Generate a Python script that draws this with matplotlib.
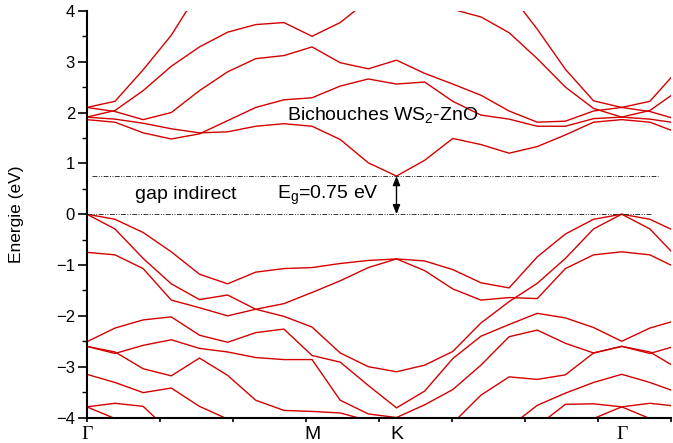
import matplotlib
matplotlib.use("Agg")
import matplotlib.pyplot as plt
import matplotlib.transforms as mtransforms
import numpy as np

plt.rcParams['font.family'] = ['Liberation Sans', 'DejaVu Sans']
plt.rcParams['mathtext.fontset'] = 'custom'
plt.rcParams['mathtext.rm'] = 'Liberation Sans'
plt.rcParams['mathtext.it'] = 'Liberation Sans:italic'

# k-point index along the path (22 points)
kpts = np.arange(22)

# Conduction bands (eV)
cb_a = [2.10, 2.22, 2.84, 3.52, 4.40, 4.90, 5.20, 5.30, 5.30, 5.20, 5.10,
        5.00, 4.90, 4.80, 4.60, 4.36, 3.64, 2.85, 2.23, 2.10, 2.22, 2.84]
cb_b = [1.91, 2.04, 2.43, 2.91, 3.29, 3.58, 3.73, 3.77, 3.50, 3.77, 4.21,
        4.40, 4.20, 4.03, 3.88, 3.57, 3.06, 2.50, 2.08, 1.91, 2.04, 2.43]
cb_c = [2.10, 2.02, 1.86, 2.00, 2.43, 2.80, 3.06, 3.12, 3.29, 2.98, 2.86,
        3.03, 2.77, 2.56, 2.34, 2.03, 1.81, 1.83, 2.03, 2.10, 2.02, 1.86]
cb_d = [1.86, 1.81, 1.60, 1.48, 1.58, 1.84, 2.10, 2.25, 2.29, 2.52, 2.66,
        2.56, 2.60, 2.22, 1.95, 1.87, 1.73, 1.73, 1.88, 1.91, 1.87, 1.79]
cb_e = [1.91, 1.87, 1.79, 1.68, 1.60, 1.62, 1.73, 1.78, 1.73, 1.47, 1.01,
        0.75, 1.06, 1.49, 1.37, 1.20, 1.33, 1.56, 1.81, 1.86, 1.81, 1.60]

# Valence bands (eV)
vb_1 = [0.00, -0.10, -0.36, -0.74, -1.18, -1.37, -1.14, -1.07, -1.05, -0.97, -0.91,
        -0.88, -0.92, -1.09, -1.35, -1.45, -0.84, -0.39, -0.10, 0.00, -0.10, -0.36]
vb_2 = [0.00, -0.29, -0.87, -1.37, -1.68, -1.59, -1.87, -2.01, -2.22, -2.73, -3.00,
        -3.10, -2.97, -2.70, -2.14, -1.72, -1.36, -0.87, -0.29, 0.00, -0.29, -0.87]
vb_3 = [-0.75, -0.80, -1.07, -1.69, -1.84, -2.00, -1.87, -1.76, -1.54, -1.31, -1.05,
        -0.88, -1.11, -1.47, -1.69, -1.64, -1.66, -1.07, -0.80, -0.74, -0.80, -1.07]
vb_4 = [-2.51, -2.24, -2.08, -2.02, -2.38, -2.52, -2.33, -2.26, -2.78, -2.91, -3.37,
        -3.81, -3.48, -2.84, -2.40, -2.17, -1.95, -2.04, -2.23, -2.50, -2.24, -2.08]
vb_5 = [-2.60, -2.74, -2.58, -2.47, -2.64, -2.71, -2.82, -2.86, -2.86, -3.66, -3.93,
        -4.00, -3.75, -3.45, -2.97, -2.41, -2.28, -2.54, -2.73, -2.60, -2.71, -3.04]
vb_6 = [-2.60, -2.71, -3.04, -3.18, -2.83, -3.17, -3.66, -3.86, -3.88, -3.91, -4.06,
        -4.15, -4.15, -4.11, -3.56, -3.20, -3.25, -3.16, -2.73, -2.60, -2.74, -2.58]
vb_7 = [-3.15, -3.31, -3.51, -3.42, -3.78, -4.03, -4.40, -4.60, -4.70, -4.70, -4.70,
        -4.70, -4.70, -4.60, -4.50, -4.19, -3.76, -3.52, -3.31, -3.15, -3.31, -3.51]
vb_8 = [-3.79, -3.72, -3.78, -4.30, -4.60, -4.80, -4.90, -5.00, -5.00, -5.00, -5.00,
        -5.00, -5.00, -5.00, -4.90, -4.60, -4.17, -3.74, -3.73, -3.79, -3.72, -3.78]
vb_9 = [-3.79, -4.02, -4.40, -4.80, -5.00, -5.10, -5.20, -5.20, -5.20, -5.20, -5.20,
        -5.20, -5.20, -5.20, -5.10, -5.00, -4.80, -4.40, -4.02, -3.79, -4.02, -4.40]

bands = [cb_a, cb_b, cb_c, cb_d, cb_e,
         vb_1, vb_2, vb_3, vb_4, vb_5, vb_6, vb_7, vb_8, vb_9]

# High-symmetry points
sym_pos = [0, 8, 11, 19]
sym_labels = ['Γ', 'M', 'K', 'Γ']
sym_fonts = ['Liberation Serif', 'Liberation Sans', 'Liberation Sans', 'Liberation Serif']

vbm = 0.0
cbm = 0.75
k_gap = 11
x_end = 20.75

fig = plt.figure(figsize=(6.73, 4.43), dpi=100)
ax = fig.add_axes([0.129, 0.0575, 0.868, 0.918])

for b in bands:
    ax.plot(kpts, b, color='#d40000', lw=1.0, solid_joinstyle='miter')

# Fermi / gap reference lines
ax.hlines(vbm, 0.0, 20.05, colors='#333333', lw=0.7,
          linestyles=[(0, (5, 1.5, 1, 1.5, 1, 1.5))])
ax.hlines(cbm, 0.2, 20.3, colors='#333333', lw=0.7,
          linestyles=[(0, (5, 1.5, 1, 1.5, 1, 1.5))])

ax.annotate('', xy=(k_gap, cbm), xytext=(k_gap, vbm),
            arrowprops=dict(arrowstyle='<|-|>,head_length=0.55,head_width=0.22',
                            color='black', lw=1.0, shrinkA=0, shrinkB=0))

ax.text(10.5, 1.86, r'Bichouches WS$_\mathregular{2}$-ZnO', fontsize=14,
        ha='center', va='baseline')
ax.text(3.5, 0.30, 'gap indirect', fontsize=14, ha='center', va='baseline')
ax.text(8.55, 0.30, r'E$_\mathregular{g}$=0.75 eV', fontsize=14,
        ha='center', va='baseline')

ax.set_xlim(0, x_end)
ax.set_ylim(-4, 4)

ax.set_xticks(np.linspace(0, x_end, 9))
ax.set_xticklabels([])
ax.set_yticks(np.arange(-4, 5, 1))
ax.set_yticks(np.arange(-3.5, 4, 1), minor=True)
ax.tick_params(axis='y', which='major', direction='out', length=6.5, width=1.2,
               labelsize=12, pad=2)
ax.tick_params(axis='y', which='minor', direction='out', length=3.6, width=1.0)
ax.tick_params(axis='x', which='major', direction='out', length=3, width=1.2)

ax.spines['top'].set_visible(False)
ax.spines['right'].set_visible(False)
ax.spines['left'].set_linewidth(1.5)
ax.spines['bottom'].set_linewidth(1.5)

trans = mtransforms.blended_transform_factory(ax.transData, ax.transAxes)
for pos, lab, fam in zip(sym_pos, sym_labels, sym_fonts):
    ax.text(pos, -0.022, lab, transform=trans, ha='center', va='top',
            fontsize=14, family=[fam, 'DejaVu Sans'])

ax.set_ylabel('Energie (eV)', fontsize=12.5)
ax.yaxis.set_label_coords(-0.108, 0.5)

fig.savefig('out.png', dpi=100)
